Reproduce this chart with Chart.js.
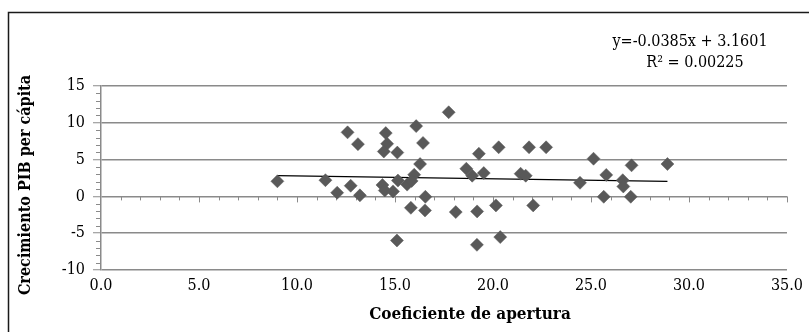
<!DOCTYPE html>
<html><head><meta charset="utf-8">
<script src="https://cdn.jsdelivr.net/npm/chart.js@4"></script>
<style>html,body{margin:0;padding:0;background:#fff;}canvas{display:block}</style>
</head><body>
<canvas id="c" width="809" height="332"></canvas>
<script>
const pointsX = [9.0, 11.45, 12.05, 12.74, 12.58, 13.11, 13.21, 14.36, 14.48, 14.53,
  14.6, 14.43, 14.9, 15.12, 15.15, 15.1, 15.62, 15.81, 15.98, 16.08,
  16.28, 16.43, 16.55, 16.53, 17.74, 18.1, 18.64, 18.94, 19.19, 19.28,
  19.53, 19.18, 20.15, 20.29, 20.37, 21.41, 21.67, 21.84, 22.05, 22.71,
  24.44, 25.13, 25.65, 25.78, 26.62, 26.65, 27.03, 27.07, 28.9, 15.85];
const pointsY = [2.05, 2.2, 0.5, 1.45, 8.7, 7.1, 0.14, 1.55, 0.8, 8.6,
  7.15, 6.1, 0.68, 5.95, 2.15, -5.99, 1.6, -1.55, 2.95, 9.55,
  4.4, 7.26, -0.05, -1.9, 11.43, -2.13, 3.76, 2.81, -2.04, 5.8,
  3.17, -6.58, -1.22, 6.67, -5.53, 3.08, 2.81, 6.67, -1.22, 6.67,
  1.85, 5.12, -0.05, 2.92, 2.2, 1.35, -0.05, 4.22, 4.4, 2.1];
const trendX = [9.0, 28.9];
const trendY = [2.81, 2.05];
const xTickLabels = ['0.0', '5.0', '10.0', '15.0', '20.0', '25.0', '30.0', '35.0'];
const yTickLabels = ['-10', '-5', '0', '5', '10', '15'];
const xTitle = 'Coeficiente de apertura';
const yTitle = 'Crecimiento PIB per cápita';
const eqLine1 = 'y=-0.0385x + 3.1601';
const eqLine2 = 'R² = 0.00225';

const SERIF = '"DejaVu Serif Condensed", "DejaVu Serif", serif';
const GRID = '#8a8a8a';

const scatterData = pointsX.map((x, i) => ({x: x, y: pointsY[i]}));
const trendData = trendX.map((x, i) => ({x: x, y: trendY[i]}));

const decor = {
  id: 'decor',
  beforeDraw(chart) {
    const ctx = chart.ctx;
    ctx.save();
    ctx.fillStyle = '#fff';
    ctx.fillRect(0, 0, chart.width, chart.height);
    ctx.strokeStyle = '#1a1a1a';
    ctx.lineWidth = 1.5;
    ctx.strokeRect(8.5, 12.5, 1200, 1200);
    ctx.restore();
  },
  beforeDatasetsDraw(chart) {
    const ctx = chart.ctx;
    const xs = chart.scales.x, ys = chart.scales.y;
    ctx.save();
    ctx.strokeStyle = GRID;
    ctx.lineWidth = 1;
    const left = xs.getPixelForValue(0);
    for (let v = ys.min; v <= ys.max; v++) {
      if (v % 5 === 0) continue;
      const py = Math.round(ys.getPixelForValue(v)) + 0.5;
      ctx.beginPath(); ctx.moveTo(left - 5, py); ctx.lineTo(left, py); ctx.stroke();
    }
    const y0 = ys.getPixelForValue(0);
    for (let v = xs.min + 1; v <= xs.max; v++) {
      const px = Math.round(xs.getPixelForValue(v)) + 0.5;
      const len = (v % 5 === 0) ? 6 : 4;
      ctx.beginPath(); ctx.moveTo(px, y0); ctx.lineTo(px, y0 + len); ctx.stroke();
    }
    ctx.restore();
  },
  afterDraw(chart) {
    const ctx = chart.ctx;
    ctx.save();
    ctx.fillStyle = '#000';
    ctx.textBaseline = 'middle';
    ctx.textAlign = 'center';
    ctx.font = 'bold 17px ' + SERIF;
    ctx.fillText(xTitle, 470, 315);
    ctx.save();
    ctx.translate(26, 185);
    ctx.rotate(-Math.PI / 2);
    ctx.font = 'bold 16px ' + SERIF;
    ctx.fillText(yTitle, 0, 0);
    ctx.restore();
    ctx.font = '16px ' + SERIF;
    ctx.textBaseline = 'alphabetic';
    ctx.fillText(eqLine1, 690, 46);
    ctx.fillText(eqLine2, 695, 67);
    ctx.restore();
  }
};

new Chart(document.getElementById('c'), {
  type: 'scatter',
  data: {
    datasets: [
      {
        type: 'line',
        data: trendData,
        borderColor: '#000',
        borderWidth: 1.3,
        pointRadius: 0,
        fill: false,
        order: 2
      },
      {
        data: scatterData,
        pointStyle: 'rectRot',
        pointRadius: 6.5,
        backgroundColor: '#595959',
        borderColor: '#595959',
        borderWidth: 0.5,
        order: 1
      }
    ]
  },
  options: {
    responsive: false,
    animation: false,
    devicePixelRatio: 1,
    layout: {padding: {left: 0, right: 17, top: 86, bottom: 0}},
    plugins: {legend: {display: false}, tooltip: {enabled: false}},
    scales: {
      x: {
        type: 'linear', min: 0, max: 35,
        ticks: {
          stepSize: 5, autoSkip: false, maxRotation: 0, padding: 6,
          callback: (v, i) => xTickLabels[i],
          font: {family: SERIF, size: 16}, color: '#000'
        },
        grid: {display: false, drawTicks: false},
        border: {display: false},
        afterFit: s => { s.height = 62; }
      },
      y: {
        type: 'linear', min: -10, max: 15,
        ticks: {
          stepSize: 5, padding: 8,
          callback: (v, i) => yTickLabels[i],
          font: {family: SERIF, size: 16}, color: '#000'
        },
        grid: {color: GRID, lineWidth: 1.5, tickLength: 8, tickColor: GRID, tickWidth: 1},
        border: {color: GRID, width: 1.5},
        afterFit: s => { s.width = 101; }
      }
    }
  },
  plugins: [decor]
});
</script>
</body></html>
